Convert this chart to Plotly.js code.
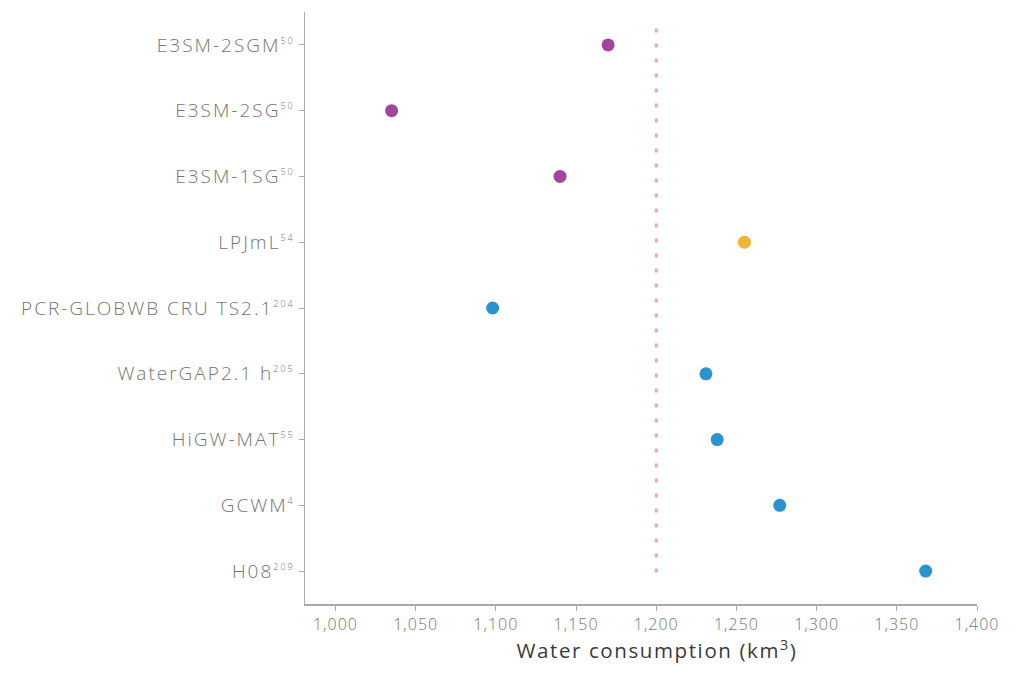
<!DOCTYPE html>
<html>
<head>
<meta charset="utf-8">
<script src="https://cdn.plot.ly/plotly-3.0.1.min.js"></script>
<style>
html,body{margin:0;padding:0;background:#fff;}
#chart{width:1017px;height:682px;}
#chart .ytick text{letter-spacing:2px;}
#chart .xtick text{letter-spacing:1px;}
#chart .xtitle{letter-spacing:1.6px;transform:translateX(16px);}
</style>
</head>
<body>
<div id="chart"></div>
<script>
const modelNames = ["E3SM-2SGM", "E3SM-2SG", "E3SM-1SG", "LPJmL", "PCR-GLOBWB CRU TS2.1", "WaterGAP2.1 h", "HiGW-MAT", "GCWM", "H08"];
const modelRefs = ["50", "50", "50", "54", "204", "205", "55", "4", "209"];
const consumption = [1170, 1035, 1140, 1255, 1098, 1231, 1238, 1277, 1368];
const groups = ["E3SM", "E3SM", "E3SM", "LPJmL", "Hydro", "Hydro", "Hydro", "Hydro", "Hydro"];
const groupColors = {E3SM: "#a3459c", LPJmL: "#f1b534", Hydro: "#2b93d1"};
const referenceValue = 1200;
const xTicks = [1000, 1050, 1100, 1150, 1200, 1250, 1300, 1350, 1400];
const xTickLabels = ["1,000", "1,050", "1,100", "1,150", "1,200", "1,250", "1,300", "1,350", "1,400"];

const modelLabels = modelNames.map((n, i) => n + "<sup><span style=\"font-size:9px\">" + modelRefs[i] + "</span></sup>");

const trace = {
  type: "scatter",
  mode: "markers",
  x: consumption,
  y: modelNames,
  marker: {size: 13, color: groups.map(g => groupColors[g])},
  hoverinfo: "x+y",
  showlegend: false
};

const layout = {
  width: 1017, height: 682,
  margin: {l: 305, r: 40, t: 12, b: 78},
  paper_bgcolor: "#fff", plot_bgcolor: "#fff",
  font: {family: "'Open Sans', Lato, sans-serif", color: "#707070", size: 13},
  xaxis: {
    range: [981, 1400],
    tickvals: xTicks, ticktext: xTickLabels,
    showgrid: false, zeroline: false,
    showline: true, linecolor: "#a8a8a8", linewidth: 1.5,
    ticks: "outside", ticklen: 5, tickcolor: "#a8a8a8",
    tickfont: {size: 16, color: "#767676", weight: 300},
    title: {text: "Water consumption (km<sup>3</sup>)", font: {size: 20.5, color: "#3a3a3a"}, standoff: 7}
  },
  yaxis: {
    type: "category",
    categoryorder: "array", categoryarray: modelNames,
    tickvals: modelNames, ticktext: modelLabels,
    range: [8.5, -0.5],
    showgrid: false, zeroline: false,
    showline: true, linecolor: "#a8a8a8", linewidth: 1.5,
    ticks: "outside", ticklen: 5, tickcolor: "#a8a8a8",
    tickfont: {size: 19, color: "#747474", weight: 300}
  },
  shapes: [{
    type: "line", xref: "x", yref: "y",
    x0: referenceValue, x1: referenceValue, y0: -0.25, y1: 8.05,
    line: {color: "#f5a3a9", width: 3, dash: "4px,11px"}
  }]
};

Plotly.newPlot("chart", [trace], layout, {displayModeBar: false, staticPlot: true});
</script>
</body>
</html>
